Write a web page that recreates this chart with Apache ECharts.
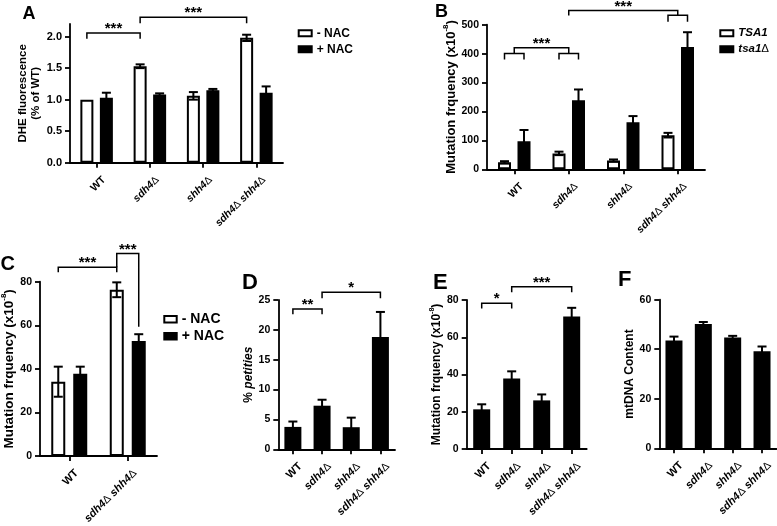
<!DOCTYPE html>
<html><head><meta charset="utf-8">
<script src="https://cdn.jsdelivr.net/npm/echarts@6/dist/echarts.min.js"></script>
<style>html,body{margin:0;padding:0;background:#fff}#c{width:777px;height:526px}</style>
</head><body><div id="c"></div>
<script>
// ---------------- data ----------------
const genotypes = ['WT', 'sdh4Δ', 'shh4Δ', 'sdh4Δ shh4Δ'];
const genotypesC = ['WT', 'sdh4Δ shh4Δ'];

// A: DHE fluorescence (% of WT)
const dheMinusNAC = [1.00, 1.53, 1.06, 1.98];
const dheMinusNACErr = [0, 0.03, 0.06, 0.05];
const dhePlusNAC = [1.03, 1.08, 1.15, 1.11];
const dhePlusNACErr = [0.08, 0.02, 0.02, 0.10];
const ticksA = [0, 0.5, 1.0, 1.5, 2.0];

// B: mutation frequency, TSA1 vs tsa1Δ
const mutTSA1 = [24, 55, 30, 118];
const mutTSA1Err = [4, 6, 4, 8];
const mutTsa1d = [97, 239, 163, 423];
const mutTsa1dErr = [39, 37, 21, 51];

// C: mutation frequency, -/+ NAC
const mutCMinusNAC = [34.1, 76.3];
const mutCMinusNACErr = [6.9, 3.4];
const mutCPlusNAC = [37.7, 52.8];
const mutCPlusNACErr = [3.3, 3.1];

// D: % petites
const petites = [3.75, 7.3, 3.7, 18.8];
const petitesErr = [0.9, 1.0, 1.6, 4.2];

// E: mutation frequency
const mutE = [21.3, 37.9, 26.1, 71.2];
const mutEErr = [2.7, 3.8, 3.2, 4.6];

// F: mtDNA content
const mtDNA = [43.5, 50.2, 44.7, 39.2];
const mtDNAErr = [1.6, 0.8, 0.7, 1.9];

// significance brackets: points are [category, barSlot(-1 left,0 centre,1 right), value]
const bracketsA = [
  {paths: [[[0,-1,1.965],[0,-1,2.056],[1,-1,2.056],[1,-1,1.965]]], text: {c1:0,s1:-1,c2:1,s2:-1,v:2.056,t:'***'}},
  {paths: [[[1,-1,2.21],[1,-1,2.307],[3,-1,2.307],[3,-1,2.21]]], text: {c1:1,s1:-1,c2:3,s2:-1,v:2.307,t:'***'}}
];
const bracketsB = [
  {paths: [
    [[0,-1,380],[0,-1,400],[0,1,400],[0,1,380]],
    [[1,-1,380],[1,-1,400],[1,1,400],[1,1,380]],
    [[0,0,400],[0,0,420],[1,0,420],[1,0,400]]
  ], text: {c1:0,s1:0,c2:1,s2:0,v:420,t:'***'}},
  {paths: [
    [[1,0,532],[1,0,549],[3,0,549],[3,0,533]],
    [[3,-1,510],[3,-1,533],[3,1,533],[3,1,510]]
  ], text: {c1:1,s1:0,c2:3,s2:0,v:549,t:'***'}}
];
const bracketsC = [
  {paths: [[[0,-1,84.3],[0,-1,86.6],[1,-1,86.6],[1,-1,84.3]]], text: {c1:0,s1:-1,c2:1,s2:-1,v:86.6,t:'***'}},
  {paths: [[[1,-1,86.6],[1,-1,93.0],[1,1,93.0],[1,1,59.3]]], text: {c1:1,s1:-1,c2:1,s2:1,v:93.0,t:'***'}}
];
const bracketsD = [
  {paths: [[[0,0,22.6],[0,0,23.5],[1,0,23.5],[1,0,22.6]]], text: {c1:0,s1:0,c2:1,s2:0,v:23.5,t:'**'}},
  {paths: [[[1,0,25.3],[1,0,26.3],[3,0,26.3],[3,0,25.3]]], text: {c1:1,s1:0,c2:3,s2:0,v:26.3,t:'*'}}
];
const bracketsE = [
  {paths: [[[0,0,75.5],[0,0,78.2],[1,0,78.2],[1,0,75.5]]], text: {c1:0,s1:0,c2:1,s2:0,v:78.2,t:'*'}},
  {paths: [[[1,0,84.1],[1,0,87.1],[3,0,87.1],[3,0,84.1]]], text: {c1:1,s1:0,c2:3,s2:0,v:87.1,t:'***'}}
];

// ---------------- styling helpers ----------------
const FONT = '"Liberation Sans", Arial, Helvetica, sans-serif';
const AXW = 1.8;
const axisLineStyle = {color: '#000', width: AXW};

function catFormatter(v) {
  if (v === 'WT') return '{w|WT}';
  return v.split(' ').map(t => t.endsWith('Δ') ? '{i|' + t.slice(0, -1) + '}{d|Δ}' : '{i|' + t + '}').join('{i| }');
}
function catRich(fs) {
  return {
    w: {fontFamily: FONT, fontWeight: 'bold', fontSize: fs, color: '#000'},
    i: {fontFamily: FONT, fontWeight: 'bold', fontStyle: 'italic', fontSize: fs, color: '#000'},
    d: {fontFamily: FONT, fontWeight: 'normal', fontSize: fs, color: '#000'}
  };
}
function xAxisFor(gi, cats, fs, margin) {
  return {
    type: 'category', gridIndex: gi, data: cats, boundaryGap: true,
    axisLine: {show: true, lineStyle: axisLineStyle},
    axisTick: {show: true, alignWithLabel: true, length: 5, lineStyle: axisLineStyle},
    axisLabel: {rotate: 45, interval: 0, margin: margin, verticalAlign: 'top', padding: [5, 0, 0, 0],
      formatter: catFormatter, rich: catRich(fs), color: '#000'},
    splitLine: {show: false}
  };
}
function yAxisFor(gi, min, max, interval, fs, name, nameGap, nameStyle, decimals, customTicks) {
  const ax = {
    type: 'value', gridIndex: gi, min: min, max: max, interval: interval,
    axisLine: {show: true, lineStyle: axisLineStyle},
    axisTick: {show: true, length: 5, lineStyle: axisLineStyle},
    axisLabel: {color: '#000', fontFamily: FONT, fontWeight: 'bold', fontSize: fs, margin: 8,
      formatter: v => (customTicks && customTicks.indexOf(+v.toFixed(3)) < 0) ? '' : v.toFixed(decimals)},
    splitLine: {show: false},
    name: name, nameLocation: 'middle', nameGap: nameGap, nameRotate: 90,
    nameTextStyle: nameStyle
  };
  if (customTicks) {
    ax.axisLabel.customValues = customTicks;
    ax.axisTick.customValues = customTicks;
  }
  return ax;
}
function barSeries(gi, name, data, fill, bw, gap, border) {
  return {
    type: 'bar', name: name, xAxisIndex: gi, yAxisIndex: gi, data: data,
    barWidth: bw, barGap: gap, silent: true, z: 2,
    itemStyle: {color: fill, borderColor: '#000', borderWidth: border},
    emphasis: {disabled: true}
  };
}
function errSeries(gi, vals, errs, offset, cap) {
  return {
    type: 'custom', xAxisIndex: gi, yAxisIndex: gi, clip: false, silent: true, z: 4,
    data: vals.map((v, i) => [i, v, errs[i]]),
    encode: {x: 0, y: 1},
    renderItem: (params, api) => {
      const c = api.value(0), v = api.value(1), e = api.value(2);
      if (!e) return null;
      const top = api.coord([c, v + e]);
      const bot = api.coord([c, v - e]);
      const x = top[0] + offset;
      const st = {stroke: '#000', lineWidth: 2};
      return {type: 'group', children: [
        {type: 'line', shape: {x1: x, y1: bot[1], x2: x, y2: top[1]}, style: st},
        {type: 'line', shape: {x1: x - cap / 2, y1: top[1], x2: x + cap / 2, y2: top[1]}, style: st},
        {type: 'line', shape: {x1: x - cap / 2, y1: bot[1], x2: x + cap / 2, y2: bot[1]}, style: st}
      ]};
    }
  };
}
function bracketSeries(gi, defs, half, starFs, starLift) {
  return {
    type: 'custom', xAxisIndex: gi, yAxisIndex: gi, clip: false, silent: true, z: 5,
    data: defs.map(d => [d.text.c1, d.text.v]),
    encode: {x: 0, y: 1},
    renderItem: (params, api) => {
      const d = defs[params.dataIndex];
      const pt = (c, s, v) => { const p = api.coord([c, v]); return [p[0] + s * half, p[1]]; };
      const children = d.paths.map(path => ({
        type: 'polyline', shape: {points: path.map(q => pt(q[0], q[1], q[2]))},
        style: {stroke: '#000', fill: 'none', lineWidth: 1.5}
      }));
      const a = pt(d.text.c1, d.text.s1, d.text.v), b = pt(d.text.c2, d.text.s2, d.text.v);
      children.push({type: 'text', x: (a[0] + b[0]) / 2, y: a[1] - starLift,
        style: {text: d.text.t, font: 'bold ' + starFs + 'px ' + FONT, fill: '#000',
          textAlign: 'center', textVerticalAlign: 'middle', align: 'center', verticalAlign: 'middle'}});
      return {type: 'group', children: children};
    }
  };
}
function nameStyle(fs, extra) {
  return Object.assign({color: '#000', fontFamily: FONT, fontWeight: 'bold', fontSize: fs}, extra || {});
}
function mutName(fs) {
  return {
    name: '{n|Mutation frquency (x10}{s|-8}{n|)}',
    style: nameStyle(fs, {rich: {
      n: {fontFamily: FONT, fontWeight: 'bold', fontSize: fs, color: '#000', verticalAlign: 'bottom', lineHeight: fs + 3},
      s: {fontFamily: FONT, fontWeight: 'bold', fontSize: Math.round(fs * 0.62), color: '#000', verticalAlign: 'top', lineHeight: fs + 3}
    }})
  };
}
function legendFor(left, top, names, fs, iw, ih, gap, italic) {
  const lg = {
    left: left, top: top, orient: 'vertical', padding: 0, itemGap: gap,
    itemWidth: iw, itemHeight: ih, icon: 'rect', data: names, selectedMode: false,
    textStyle: {color: '#000', fontFamily: FONT, fontWeight: 'bold', fontSize: fs, lineHeight: fs, padding: [0, 0, 0, 0]},
    itemStyle: {borderColor: '#000', borderWidth: 2}
  };
  if (italic) {
    lg.formatter = n => n.endsWith('Δ') ? '{i|' + n.slice(0, -1) + '}{d|Δ}' : '{i|' + n + '}';
    lg.textStyle.rich = {
      i: {fontFamily: FONT, fontWeight: 'bold', fontStyle: 'italic', fontSize: fs, color: '#000'},
      d: {fontFamily: FONT, fontWeight: 'normal', fontSize: fs, color: '#000'}
    };
  }
  return lg;
}

// ---------------- layout ----------------
const grids = [
  [70, 24, 213, 138.7],      // A
  [487, 24.7, 218, 144.6],   // B
  [40, 281.7, 117, 174.3],   // C
  [278.3, 300, 116.7, 149.3],// D
  [466.7, 300, 120, 149],    // E
  [659.3, 299.7, 117.4, 148.6] // F
].map(g => ({left: g[0], top: g[1], width: g[2], height: g[3], containLabel: false, outerBoundsMode: 'none'}));

const bwAB = 13, gapAB = '50%', halfAB = bwAB * 1.5 / 2;
const bwC = 14, gapC = '57%', halfC = bwC * 1.57 / 2;
const bwS = 17;

const nmB = mutName(13), nmC = mutName(13.5), nmE = mutName(12);

const option = {
  animation: false,
  backgroundColor: '#fff',
  grid: grids,
  legend: [
    legendFor(297.7, 27.3, ['- NAC', '+ NAC'], 12, 13, 6, 4, false),
    legendFor(719.3, 27.3, ['TSA1', 'tsa1Δ'], 11.5, 13, 6, 4, true),
    legendFor(163.3, 312.2, ['- NAC ', '+ NAC '], 14, 12.4, 6.4, 3, false)
  ],
  xAxis: [
    xAxisFor(0, genotypes, 10.5, 8),
    xAxisFor(1, genotypes, 10.5, 8),
    xAxisFor(2, genotypesC, 11, 8),
    xAxisFor(3, genotypes, 11, 8),
    xAxisFor(4, genotypes, 11, 8),
    xAxisFor(5, genotypes, 11, 8)
  ],
  yAxis: [
    yAxisFor(0, 0, 2.2, 0.5, 11, 'DHE fluorescence\n(% of WT)', 16, nameStyle(11.5, {lineHeight: 13.5}), 1, ticksA),
    yAxisFor(1, 0, 500, 100, 10.5, nmB.name, 20, nmB.style, 0, null),
    yAxisFor(2, 0, 80, 20, 10.5, nmC.name, 21, nmC.style, 0, null),
    yAxisFor(3, 0, 25, 5, 10.5, '{n|% }{i|petities}', 24, nameStyle(12, {rich: {
      n: {fontFamily: FONT, fontWeight: 'bold', fontSize: 12, color: '#000'},
      i: {fontFamily: FONT, fontWeight: 'bold', fontStyle: 'italic', fontSize: 12, color: '#000'}}}), 0, null),
    yAxisFor(4, 0, 80, 20, 10.5, nmE.name, 16, nmE.style, 0, null),
    yAxisFor(5, 0, 60, 20, 10.5, 'mtDNA Content', 19, nameStyle(12), 0, null)
  ],
  series: [
    // A
    barSeries(0, '- NAC', dheMinusNAC, '#fff', bwAB, gapAB, 2),
    barSeries(0, '+ NAC', dhePlusNAC, '#000', bwAB, gapAB, 2),
    errSeries(0, dheMinusNAC, dheMinusNACErr, -halfAB, 9),
    errSeries(0, dhePlusNAC, dhePlusNACErr, halfAB, 9),
    bracketSeries(0, bracketsA, halfAB, 15, 4),
    // B
    barSeries(1, 'TSA1', mutTSA1, '#fff', bwAB, gapAB, 2),
    barSeries(1, 'tsa1Δ', mutTsa1d, '#000', bwAB, gapAB, 2),
    errSeries(1, mutTSA1, mutTSA1Err, -halfAB, 9),
    errSeries(1, mutTsa1d, mutTsa1dErr, halfAB, 9),
    bracketSeries(1, bracketsB, halfAB, 15, 4),
    // C
    barSeries(2, '- NAC ', mutCMinusNAC, '#fff', bwC, gapC, 2),
    barSeries(2, '+ NAC ', mutCPlusNAC, '#000', bwC, gapC, 2),
    errSeries(2, mutCMinusNAC, mutCMinusNACErr, -halfC, 9),
    errSeries(2, mutCPlusNAC, mutCPlusNACErr, halfC, 9),
    bracketSeries(2, bracketsC, halfC, 15, 4),
    // D
    barSeries(3, 'petites', petites, '#000', bwS, '0%', 0),
    errSeries(3, petites, petitesErr, 0, 9),
    bracketSeries(3, bracketsD, 0, 15, 4),
    // E
    barSeries(4, 'mutE', mutE, '#000', bwS, '0%', 0),
    errSeries(4, mutE, mutEErr, 0, 9),
    bracketSeries(4, bracketsE, 0, 15, 4),
    // F
    barSeries(5, 'mtDNA', mtDNA, '#000', bwS, '0%', 0),
    errSeries(5, mtDNA, mtDNAErr, 0, 9)
  ],
  graphic: [
    {type: 'text', left: 22.5, top: 5, style: {text: 'A', font: 'bold 18px ' + FONT, fill: '#000'}},
    {type: 'text', left: 435, top: 3.5, style: {text: 'B', font: 'bold 18px ' + FONT, fill: '#000'}},
    {type: 'text', left: 0.5, top: 254, style: {text: 'C', font: 'bold 20px ' + FONT, fill: '#000'}},
    {type: 'text', left: 242, top: 272, style: {text: 'D', font: 'bold 22px ' + FONT, fill: '#000'}},
    {type: 'text', left: 433, top: 272, style: {text: 'E', font: 'bold 22px ' + FONT, fill: '#000'}},
    {type: 'text', left: 618, top: 269, style: {text: 'F', font: 'bold 22px ' + FONT, fill: '#000'}}
  ]
};

const chart = echarts.init(document.getElementById('c'), null, {renderer: 'canvas'});
chart.setOption(option);
</script>
</body></html>
